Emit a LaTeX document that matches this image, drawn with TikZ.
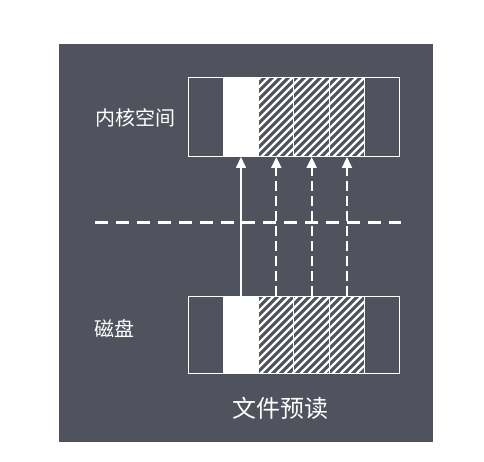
\documentclass[tikz,border=0pt]{standalone}
\usepackage{fontspec}
\newfontfamily\cjk{Noto Sans CJK SC}
\usetikzlibrary{arrows.meta}
\definecolor{bg}{HTML}{50535D}
\definecolor{fg}{HTML}{FFFFFF}
\begin{document}
\begin{tikzpicture}[x=1pt,y=-1pt,
  cell/.style={draw=fg, line width=1pt, minimum width=35.33pt, minimum height=#1, inner sep=0pt, outer sep=0pt, anchor=north west},
  lbl/.style={text=fg, font=\cjk\fontsize{20}{22}\selectfont, inner sep=0pt},
  hatchline/.style={fg, line width=2.3pt},
  up/.style={fg, line width=1.6pt, -{Triangle[width=10pt,length=11pt]}},
  updash/.style={up, line width=2.2pt, dash pattern=on 10pt off 5pt},
  sep/.style={fg, line width=3pt, dash pattern=on 13pt off 8pt}]
\useasboundingbox (0,0) rectangle (484,462);
\fill[bg] (59,44) rectangle (433,442);
% cells
\foreach \k in {1,...,6} {
  \node[cell=79pt] (t\k) at ({188+(\k-1)*35.33},78) {};
  \node[cell=77pt] (b\k) at ({188+(\k-1)*35.33},296) {};
}
\fill[fg] (t2.north west) rectangle (t2.south east);
\fill[fg] (b2.north west) rectangle (b2.south east);
\begin{scope}
  \clip (t3.north west) rectangle (t5.south east);
  \foreach \i in {-90,-82,...,112} \draw[hatchline] ({260+\i},160) -- ++(85,-85);
\end{scope}
\begin{scope}
  \clip (b3.north west) rectangle (b5.south east);
  \foreach \i in {-90,-82,...,112} \draw[hatchline] ({260+\i},376) -- ++(83,-83);
\end{scope}
\foreach \k in {1,...,6} {
  \draw[fg, line width=1pt] (t\k.north west) rectangle (t\k.south east);
  \draw[fg, line width=1pt] (b\k.north west) rectangle (b\k.south east);
}
% separator
\coordinate (sl) at (95,223);
\coordinate (sr) at (401,223);
\draw[sep] (sl) -- (sr);
% arrows
\draw[up] (b2.north) -- (t2.south);
\foreach \k in {3,4,5} \draw[updash] (b\k.north) -- (t\k.south);
% labels
\node[lbl] (kern) at (135,118) {内核空间};
\node[lbl] (disk) at (114,329) {磁盘};
\node[lbl, font=\cjk\fontsize{24}{26}\selectfont] (title) at (280,408) {文件预读};
\end{tikzpicture}
\end{document}
